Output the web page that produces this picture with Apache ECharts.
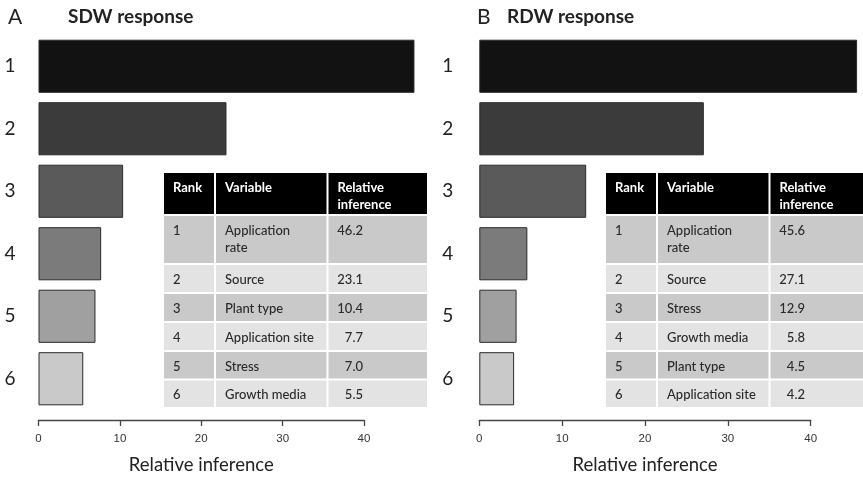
<!DOCTYPE html>
<html>
<head>
<meta charset="utf-8">
<script src="https://cdn.jsdelivr.net/npm/echarts@6/dist/echarts.min.js"></script>
<style>html,body{margin:0;padding:0;background:#fff}#c{width:863px;height:480px}</style>
</head>
<body>
<div id="c"></div>
<script>
// ---- data ----
const ranks = ['1', '2', '3', '4', '5', '6'];
const sdwVars = ['Application rate', 'Source', 'Plant type', 'Application site', 'Stress', 'Growth media'];
const sdwVals = [46.2, 23.1, 10.4, 7.7, 7.0, 5.5];
const rdwVars = ['Application rate', 'Source', 'Stress', 'Growth media', 'Plant type', 'Application site'];
const rdwVals = [45.6, 27.1, 12.9, 5.8, 4.5, 4.2];
const xTickMin = 0, xTickMax = 40, xTickStep = 10;
const headers = ['Rank', 'Variable', 'Relative\ninference'];
const barColors = ['#121212', '#3b3b3b', '#5a5a5a', '#7b7b7b', '#a0a0a0', '#c9c9c9'];

const FONT = 'Lato, "Open Sans", sans-serif';
const chart = echarts.init(document.getElementById('c'));

function barData(vals) {
  return vals.map((v, i) => ({ value: v, itemStyle: { color: barColors[i] } }));
}

// table layout
const rowY = [172, 215, 264, 293, 322, 351, 379.5, 408];
function buildTable(cols, vars, vals) {
  const els = [];
  const nRows = rowY.length - 1;
  for (let r = 0; r < nRows; r++) {
    const fill = r === 0 ? '#000' : (r % 2 === 1 ? '#c9c9c9' : '#e3e3e3');
    for (let c = 0; c < 3; c++) {
      els.push({
        type: 'rect', silent: true,
        shape: { x: cols[c] + 1, y: rowY[r] + 1, width: cols[c + 1] - cols[c] - 2, height: rowY[r + 1] - rowY[r] - 2 },
        style: { fill: fill }
      });
      let txt, align = 'left', tx = cols[c] + 10;
      if (r === 0) txt = headers[c];
      else if (c === 0) txt = ranks[r - 1];
      else if (c === 1) { const n = vars[r - 1]; txt = n === 'Application rate' ? 'Application\nrate' : n; }
      else { txt = vals[r - 1].toFixed(1); align = 'right'; tx = cols[c] + 35.5; }
      els.push({
        type: 'text', silent: true, z: 10,
        x: tx, y: rowY[r] + 7,
        style: {
          text: txt, fill: r === 0 ? '#fff' : '#2a2a2a',
          font: (r === 0 ? 'bold ' : '500 ') + '13px ' + FONT,
          lineHeight: 17, align: align, verticalAlign: 'top'
        }
      });
    }
  }
  return els;
}

const colsA = [163, 215, 327.5, 428];
const colsB = [605, 657, 769.5, 868];

const grids = [
  { left: 38.5, width: 325.5, top: 35, height: 375 },
  { left: 479.3, width: 331.4, top: 35, height: 375 }
];

function xAxis(gi) {
  return {
    type: 'value', gridIndex: gi, min: xTickMin, max: xTickMax, interval: xTickStep,
    offset: 10,
    name: 'Relative inference', nameLocation: 'middle', nameGap: 36,
    nameTextStyle: { fontSize: 18.5, fontFamily: FONT, color: '#222' },
    axisLine: { show: true, lineStyle: { color: '#444', width: 1.3 } },
    axisTick: { show: true, length: 6, lineStyle: { color: '#444', width: 1.3 } },
    axisLabel: { fontSize: 11.5, color: '#333', margin: 13, fontFamily: '"Liberation Sans", Arial, sans-serif' },
    splitLine: { show: false }
  };
}
function yAxis(gi, margin) {
  return {
    type: 'category', gridIndex: gi, data: ranks, inverse: true,
    axisLine: { show: false }, axisTick: { show: false },
    axisLabel: { fontSize: 19, color: '#222', margin: margin, fontFamily: FONT }
  };
}

function barSeries(gi, vals) {
  return {
    type: 'bar', xAxisIndex: gi, yAxisIndex: gi, data: barData(vals),
    barCategoryGap: '15%', clip: false, silent: true,
    itemStyle: { borderColor: '#2a2a2a', borderWidth: 1 }
  };
}

chart.setOption({
  animation: false,
  grid: grids,
  xAxis: [xAxis(0), xAxis(1)],
  yAxis: [yAxis(0, 23), yAxis(1, 26)],
  series: [barSeries(0, sdwVals), barSeries(1, rdwVals)],
  graphic: [
    { type: 'text', x: 8, y: 17, style: { text: 'A', font: '21px ' + FONT, fill: '#222', verticalAlign: 'middle' } },
    { type: 'text', x: 68, y: 17, style: { text: 'SDW response', font: 'bold 19px ' + FONT, fill: '#222', verticalAlign: 'middle' } },
    { type: 'text', x: 477, y: 17, style: { text: 'B', font: '21px ' + FONT, fill: '#222', verticalAlign: 'middle' } },
    { type: 'text', x: 507, y: 17, style: { text: 'RDW response', font: 'bold 19px ' + FONT, fill: '#222', verticalAlign: 'middle' } }
  ].concat(buildTable(colsA, sdwVars, sdwVals), buildTable(colsB, rdwVars, rdwVals))
});
</script>
</body>
</html>
